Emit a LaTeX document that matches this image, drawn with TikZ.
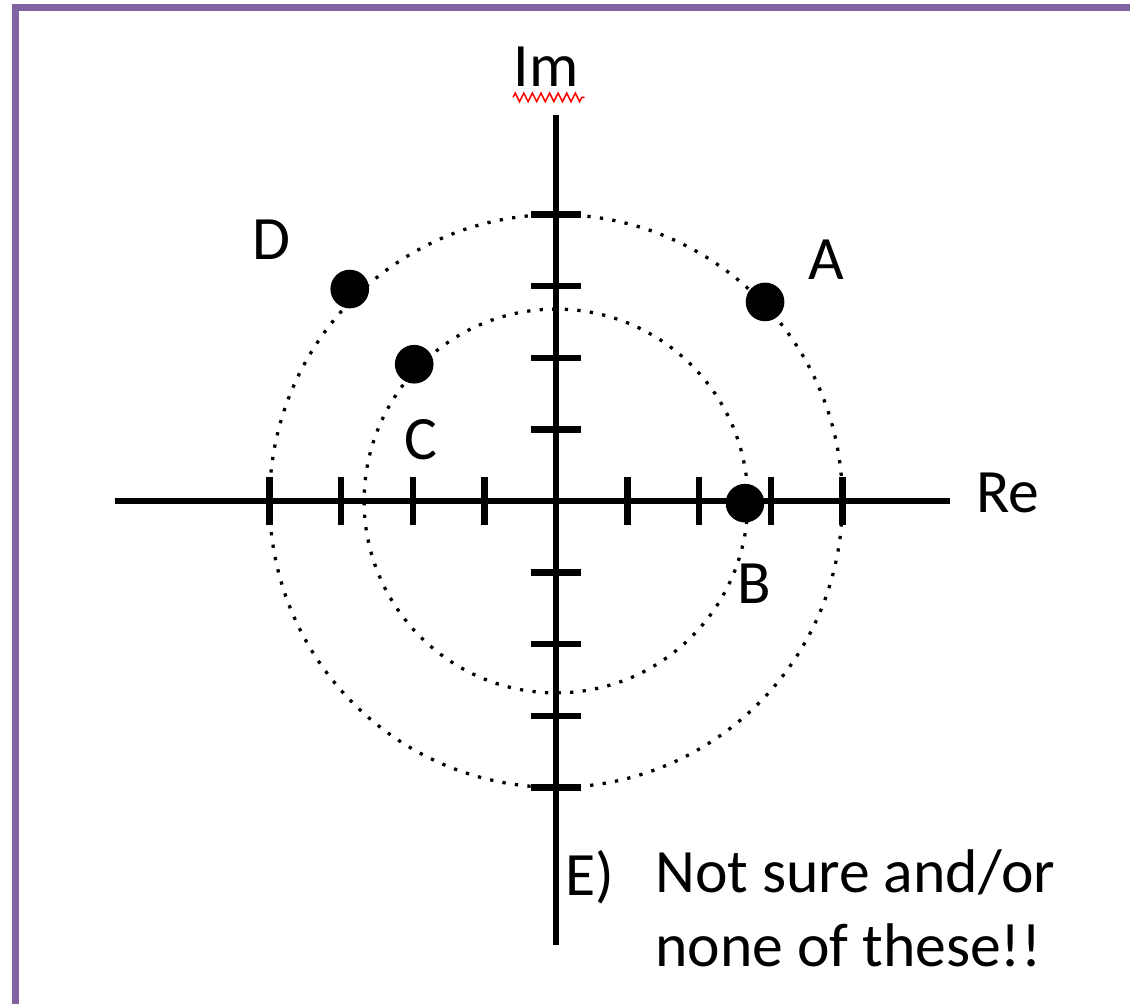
\documentclass[tikz,border=0pt]{standalone}
\usepackage{fontspec}
\setmainfont{Carlito}
\usetikzlibrary{decorations.pathmorphing}
\definecolor{framepurple}{RGB}{128,100,162}
\tikzset{
	dot/.style={circle, fill=black, inner sep=0pt, minimum size=0.54cm},
	lbl/.style={font=\fontsize{24.5}{29}\selectfont, inner sep=0pt},
	ring/.style={line width=1.3pt, dash pattern=on 1.3pt off 3.7pt}
}

\begin{document}
\begin{tikzpicture}
		\useasboundingbox (-7.765,-7.025) rectangle (8.017,6.997);
		% frame
		\draw[line width=2.8pt, color=framepurple] (-7.55,-7.1) -- (-7.55,6.89) -- (8.1,6.89);
		% circles
		\draw[ring] (0,0) circle (4);
		\draw[ring] (0,0) circle (2.68);
		% axes
		\draw[line width=2.4pt] (-6.16,0) -- (5.5,0);
		\draw[line width=2.4pt] (0,-6.2) -- (0,5.39);
		% ticks
		\foreach \i in {-4,-3,-2,-1,1,2,3,4} {
			\draw[line width=2.6pt] (\i,-0.34) -- (\i,0.34);
			\draw[line width=2.6pt] (-0.35,\i) -- (0.35,\i);
		}
		% points
		\node[dot] (A) at (2.92,2.78) {};
		\node[dot] (B) at (2.64,-0.03) {};
		\node[dot] (C) at (-1.98,1.91) {};
		\node[dot] (D) at (-2.88,2.96) {};
		\node[lbl] (labA) at (3.77,3.37) {A};
		\node[lbl] (labB) at (2.77,-1.15) {B};
		\node[lbl] (labC) at (-1.89,0.85) {C};
		\node[lbl] (labD) at (-3.97,3.65) {D};
		% axis names
		\node[lbl] (im) at (-0.14,6.06) {Im};
		\node[lbl] (re) at (6.31,0.11) {Re};
		\draw[red, line width=0.6pt, decorate, decoration={zigzag, amplitude=0.06cm, segment length=0.12cm}]
			(im.south west) ++(0,-0.14) -- ++(1.0,0);
		% option E
		\node[lbl, anchor=west] (optE) at (0.13,-5.25) {E)};
		\node[lbl, anchor=north west, align=left] (optEtext) at (1.38,-4.86) {Not sure and/or\\[0.5pt]none of these!!};
	\end{tikzpicture}
\end{document}
